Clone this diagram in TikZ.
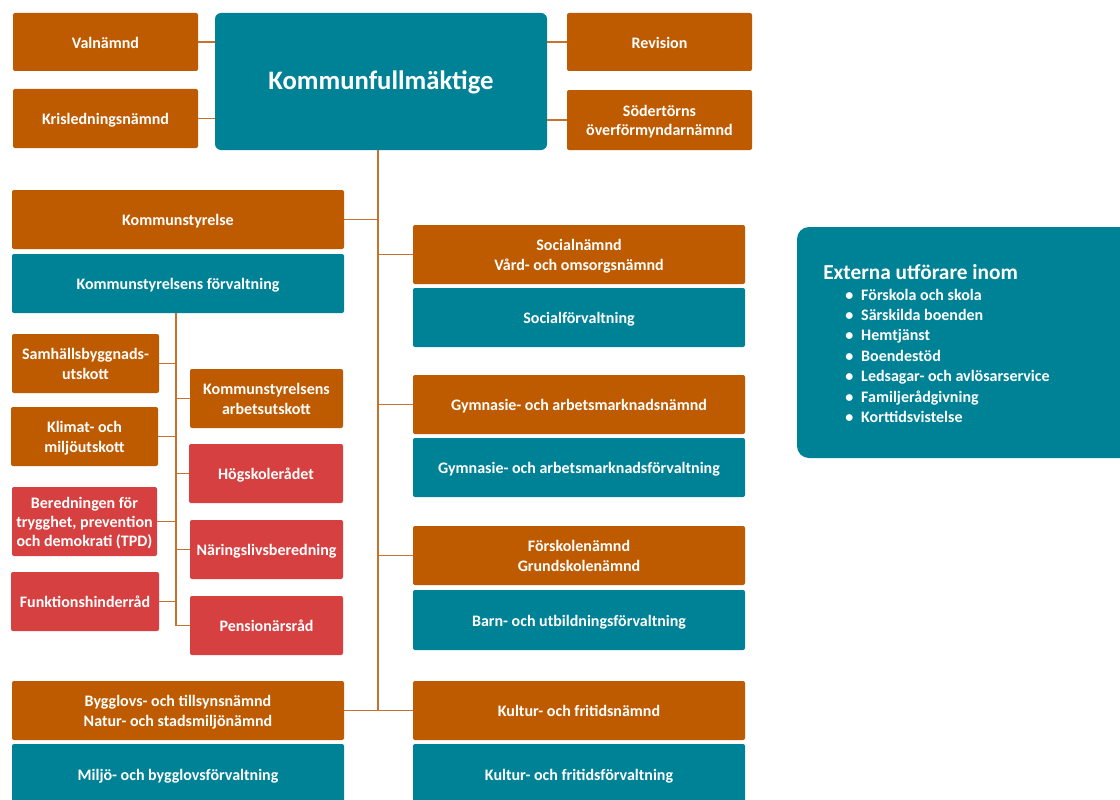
\documentclass[tikz,border=0pt]{standalone}
\usepackage{fontspec}
\setmainfont{Carlito}
\definecolor{org}{RGB}{190,91,0}
\definecolor{teal}{RGB}{0,130,150}
\definecolor{rd}{RGB}{214,64,64}
\definecolor{ln}{RGB}{200,112,45}
\newcommand\bx[7]{\node[#2, minimum width={0.75pt*(#5-#3)}, minimum height={0.75pt*(#6-#4)}] (#1) at ({(#3+#5)/2},{(#4+#6)/2}) {\raisebox{-1.6pt}[\height][\depth]{\begin{tabular}{@{}c@{}}#7\end{tabular}}};}
\tikzset{
  base/.style={inner sep=0pt, outer sep=0pt, rounded corners=1.5pt, align=center, text=white,
    font=\bfseries\fontsize{12}{15}\selectfont},
  ob/.style={base, fill=org},
  tb/.style={base, fill=teal},
  rb/.style={base, fill=rd},
  conn/.style={draw=ln, line width=1.1pt},
}
\renewcommand\arraystretch{0.97}
\begin{document}
\begin{tikzpicture}[x=0.75pt, y=-0.75pt]
\useasboundingbox (0,0) rectangle (1120,799);
\fill[white] (0,0) rectangle (1120,799);
% top
\bx{val}{ob}{13}{13}{198}{71}{Valnämnd}
\bx{kris}{ob}{13}{89}{198}{148}{Krisledningsnämnd}
\bx{kf}{tb, rounded corners=4.5pt, font=\bfseries\fontsize{20}{24}\selectfont}{215}{13}{547}{150}{Kommunfullmäktige}
\bx{rev}{ob}{567}{13}{752}{71}{Revision}
\bx{sod}{ob}{567}{90}{752}{150}{Södertörns\\överförmyndarnämnd}
% left column
\bx{ks}{ob}{12}{190}{344}{249}{Kommunstyrelse}
\bx{ksf}{tb}{12}{254}{344}{313}{Kommunstyrelsens förvaltning}
\bx{sam}{ob}{12}{334}{159}{393}{Samhällsbyggnads-\\utskott}
\bx{ksau}{ob}{190}{369}{343}{428}{Kommunstyrelsens\\arbetsutskott}
\bx{klim}{ob}{11}{407}{158}{466}{Klimat- och\\miljöutskott}
\bx{hog}{rb}{189}{444}{343}{503}{Högskolerådet}
\bx{ber}{rb}{12}{487}{157}{556}{Beredningen för\\trygghet, prevention\\och demokrati (TPD)}
\bx{nar}{rb}{190}{520}{343}{579}{Näringslivsberedning}
\bx{fun}{rb}{11}{572}{159}{631}{Funktionshinderråd}
\bx{pen}{rb}{190}{596}{343}{655}{Pensionärsråd}
\bx{byg}{ob}{12}{681}{344}{740}{Bygglovs- och tillsynsnämnd\\Natur- och stadsmiljönämnd}
\bx{mbf}{tb}{12}{744}{344}{804}{Miljö- och bygglovsförvaltning}
% right column
\bx{soc}{ob}{413}{225}{745}{284}{Socialnämnd\\Vård- och omsorgsnämnd}
\bx{socf}{tb}{413}{288}{745}{347}{Socialförvaltning}
\bx{gym}{ob}{413}{375}{745}{434}{Gymnasie- och arbetsmarknadsnämnd}
\bx{gymf}{tb}{413}{438}{745}{497}{Gymnasie- och arbetsmarknadsförvaltning}
\bx{fsk}{ob}{413}{526}{745}{585}{Förskolenämnd\\Grundskolenämnd}
\bx{buf}{tb}{413}{590}{745}{650}{Barn- och utbildningsförvaltning}
\bx{kul}{ob}{413}{681}{745}{740}{Kultur- och fritidsnämnd}
\bx{kulf}{tb}{413}{744}{745}{804}{Kultur- och fritidsförvaltning}
% external
\node[tb, rounded corners=9pt, minimum width={0.75pt*338}, minimum height={0.75pt*231}] (ext) at (966,342.5) {};
\node[anchor=base west, inner sep=0pt, text=white, font=\bfseries\fontsize{16}{19}\selectfont] (extt) at (823,279) {Externa utförare inom};
\node[anchor=base west, inner sep=0pt, text=white, font=\bfseries\fontsize{12}{15.3}\selectfont] (extl) at (845,300)
{\renewcommand\arraystretch{1}\begin{tabular}[t]{@{}l@{\hspace{6pt}}l@{}}
\textbullet & Förskola och skola\\
\textbullet & Särskilda boenden\\
\textbullet & Hemtjänst\\
\textbullet & Boendestöd\\
\textbullet & Ledsagar- och avlösarservice\\
\textbullet & Familjerådgivning\\
\textbullet & Korttidsvistelse
\end{tabular}};
% connectors
\coordinate (mt) at (378,0);
\coordinate (st) at (176,0);
\draw[conn] (val.east) -- (kf.west |- val.east);
\draw[conn] (kris.east) -- (kf.west |- kris.east);
\draw[conn] (kf.east |- rev.west) -- (rev.west);
\draw[conn] (kf.east |- sod.west) -- (sod.west);
\draw[conn] (kf.south -| mt) -- (mt |- kul.west);
\draw[conn] (ks.east) -- (mt |- ks.east);
\draw[conn] (mt |- soc.west) -- (soc.west);
\draw[conn] (mt |- gym.west) -- (gym.west);
\draw[conn] (mt |- fsk.west) -- (fsk.west);
\draw[conn] (byg.east) -- (kul.west);
\draw[conn] (ksf.south -| st) -- (st |- pen.west);
\draw[conn] (sam.east) -- (st |- sam.east);
\draw[conn] (klim.east) -- (st |- klim.east);
\draw[conn] (ber.east) -- (st |- ber.east);
\draw[conn] (fun.east) -- (st |- fun.east);
\draw[conn] (st |- ksau.west) -- (ksau.west);
\draw[conn] (st |- hog.west) -- (hog.west);
\draw[conn] (st |- nar.west) -- (nar.west);
\draw[conn] (st |- pen.west) -- (pen.west);
\end{tikzpicture}
\end{document}
